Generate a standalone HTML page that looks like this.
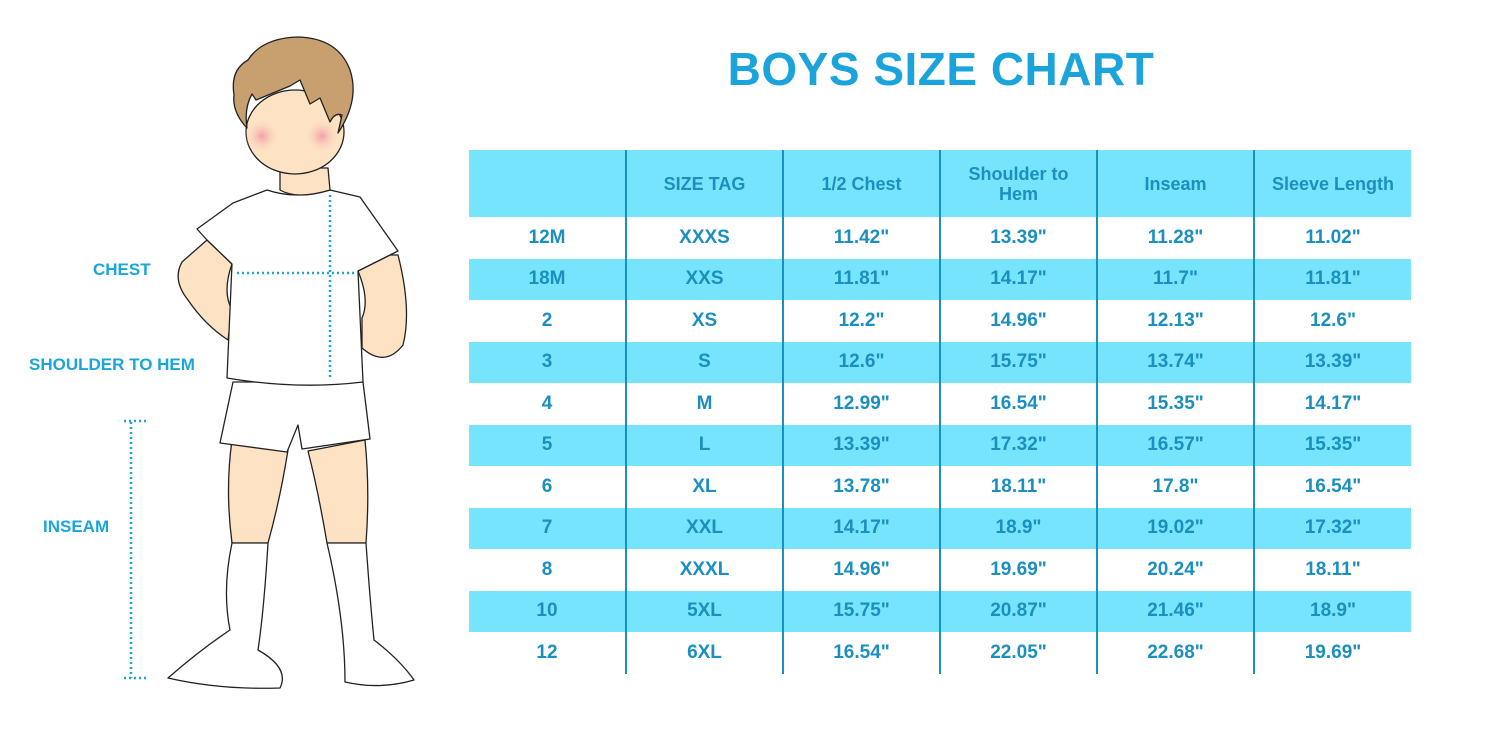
<!DOCTYPE html>
<html><head><meta charset="utf-8"><style>
body{margin:0;width:1500px;height:750px;background:#fff;position:relative;overflow:hidden;font-family:"Liberation Sans",sans-serif}
.t{position:absolute;left:469px;top:150px;border-collapse:collapse;table-layout:fixed;width:942px}
.t td{height:41.5px;padding:0;text-align:center;font-weight:bold;font-size:19px;color:#1a8fc0;border-left:2px solid #1a8fc0;line-height:20px}
.t td:first-child{border-left:none}
.t tr.c td{background:#76e4fc}
.t tr.h td{height:67px;font-size:18px}
h1{position:absolute;left:0;top:42px;width:1882px;margin:0;text-align:center;font-size:46px;color:#1ba3dc;font-weight:bold;letter-spacing:0.5px}
.l{position:absolute;font-weight:bold;font-size:17px;color:#1aa6d8}
</style></head><body>
<h1>BOYS SIZE CHART</h1>
<table class="t">
<colgroup><col style="width:157px"><col style="width:157px"><col style="width:157px"><col style="width:157px"><col style="width:157px"><col style="width:157px"></colgroup>
<tr class="c h"><td></td><td>SIZE TAG</td><td>1/2 Chest</td><td>Shoulder to<br>Hem</td><td>Inseam</td><td>Sleeve Length</td></tr>
<tr><td>12M</td><td>XXXS</td><td>11.42"</td><td>13.39"</td><td>11.28"</td><td>11.02"</td></tr>
<tr class="c"><td>18M</td><td>XXS</td><td>11.81"</td><td>14.17"</td><td>11.7"</td><td>11.81"</td></tr>
<tr><td>2</td><td>XS</td><td>12.2"</td><td>14.96"</td><td>12.13"</td><td>12.6"</td></tr>
<tr class="c"><td>3</td><td>S</td><td>12.6"</td><td>15.75"</td><td>13.74"</td><td>13.39"</td></tr>
<tr><td>4</td><td>M</td><td>12.99"</td><td>16.54"</td><td>15.35"</td><td>14.17"</td></tr>
<tr class="c"><td>5</td><td>L</td><td>13.39"</td><td>17.32"</td><td>16.57"</td><td>15.35"</td></tr>
<tr><td>6</td><td>XL</td><td>13.78"</td><td>18.11"</td><td>17.8"</td><td>16.54"</td></tr>
<tr class="c"><td>7</td><td>XXL</td><td>14.17"</td><td>18.9"</td><td>19.02"</td><td>17.32"</td></tr>
<tr><td>8</td><td>XXXL</td><td>14.96"</td><td>19.69"</td><td>20.24"</td><td>18.11"</td></tr>
<tr class="c"><td>10</td><td>5XL</td><td>15.75"</td><td>20.87"</td><td>21.46"</td><td>18.9"</td></tr>
<tr><td>12</td><td>6XL</td><td>16.54"</td><td>22.05"</td><td>22.68"</td><td>19.69"</td></tr>
</table>
<svg style="position:absolute;left:0;top:0" width="460" height="750" stroke="#222" stroke-width="1.3" stroke-linejoin="round">
<defs><radialGradient id="ch"><stop offset="0" stop-color="#f4a0a8"/><stop offset="1" stop-color="#fde3c4" stop-opacity="0"/></radialGradient></defs>
<!-- legs -->
<path d="M232 440 L288 450 Q280 500 268 543 L232 543 Q225 490 232 440Z" fill="#fde3c4"/>
<path d="M308 451 L365 440 Q370 490 366 543 L327 543 Q318 490 308 451Z" fill="#fde3c4"/>
<!-- socks -->
<path d="M232 543 L268 543 Q264 610 258 650 Q290 668 280 688 Q220 690 168 678 Q200 650 230 630 Q222 590 232 543Z" fill="#fff"/>
<path d="M327 543 L366 543 Q370 600 374 640 Q400 660 414 680 Q380 690 345 682 Q345 620 327 543Z" fill="#fff"/>
<!-- arms -->
<path d="M207 240 L182 262 Q172 280 188 300 Q205 325 228 340 L232 310 Q222 292 232 264Z" fill="#fde3c4"/>
<path d="M390 255 L398 255 Q412 310 403 345 Q385 368 362 348 L362 318 Q370 300 358 271Z" fill="#fde3c4"/>
<!-- shorts -->
<path d="M233 382 L363 382 L370 439 L302 449 L298 425 L287 452 L220 443Z" fill="#fff"/>
<!-- shirt -->
<path d="M267 190 Q297 200 330 190 L360 197 L398 251 L390 255 L358 271 L363 382 Q297 390 227 378 L232 264 L207 240 L197 229 L233 203Z" fill="#fff"/>
<!-- neck -->
<path d="M280 168 L280 190 Q297 200 330 190 L328 168Z" fill="#fde3c4"/>
<!-- face -->
<ellipse cx="295" cy="132" rx="49" ry="42" fill="#fde3c4"/>
<circle cx="262" cy="136" r="18" fill="url(#ch)" stroke="none"/>
<circle cx="322" cy="136" r="18" fill="url(#ch)" stroke="none"/>
<!-- hair -->
<path d="M247 128 Q232 112 234 95 Q230 70 248 60 Q262 38 298 37 Q338 38 350 70 Q360 100 338 133 L342 115 Q335 112 330 122 L320 98 L310 104 L300 80 L290 86 L256 100 L252 94 Q244 108 247 128Z" fill="#c8a070"/>
<g stroke="#1aa6d8" stroke-width="2.5" stroke-dasharray="2 3" fill="none">
<path d="M237 273 H357"/><path d="M330 195 V380"/>
<path d="M131 422 V678"/><path d="M124 421 H146"/><path d="M124 678 H146"/>
</g>
</svg>
<div class="l" style="left:93px;top:260px">CHEST</div>
<div class="l" style="left:29px;top:355px">SHOULDER TO HEM</div>
<div class="l" style="left:43px;top:517px">INSEAM</div>
</body></html>
